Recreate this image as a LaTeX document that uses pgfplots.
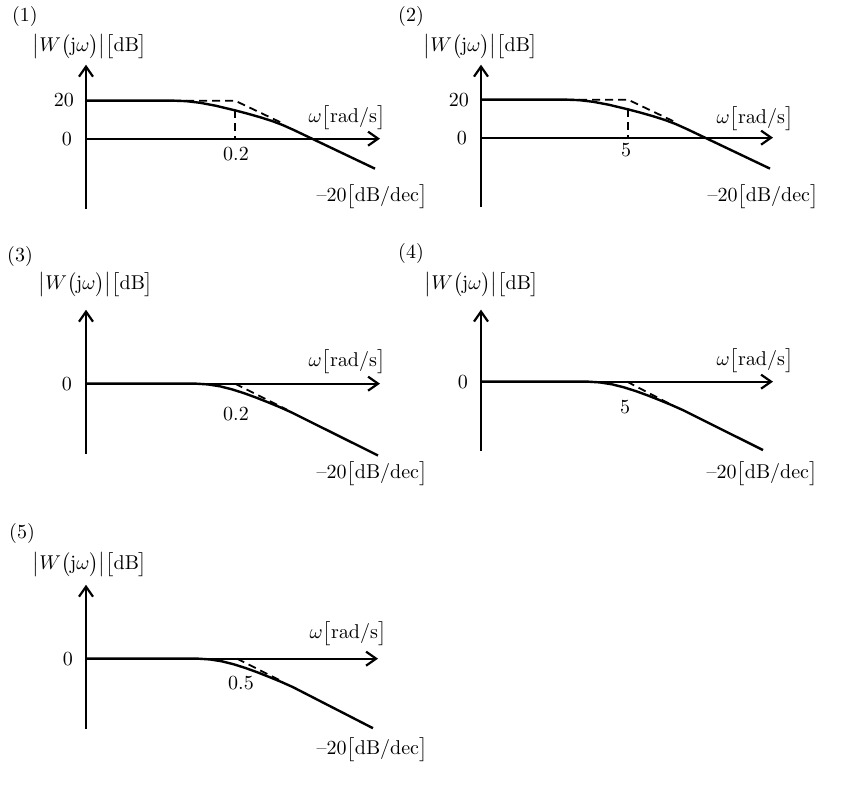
\documentclass[border=0pt]{standalone}
\usepackage{pgfplots}
\pgfplotsset{compat=1.18}
\usepackage{pgfplotstable}
\usetikzlibrary{arrows.meta}

% curves: x = offset from the vertical axis (px), y = gain in dB
\pgfplotstableread{
x y
0 20
87 20
100 19.75
114 18.9
130 17.3
149 14.9
162 13.1
174 11.3
186 9.3
197 7.1
208 4.5
289 -15.8
}\curveA
\pgfplotstableread{
x y
0 20
85 20
98 19.75
112 18.9
128 17.3
147 14.9
160 13.1
172 11.3
184 9.3
195 7.1
206 4.5
289 -16.3
}\curveB
\pgfplotstableread{
x y
0 0
110 0
122 -0.4
134 -1.4
146 -3.0
158 -5.0
170 -7.3
182 -9.8
194 -12.4
205 -15.0
292 -37.8
}\curveC
\pgfplotstableread{
x y
0 0
107 0
119 -0.4
131 -1.4
143 -3.0
155 -5.0
167 -7.3
179 -9.8
191 -12.4
202 -15.0
282 -36.0
}\curveD
\pgfplotstableread{
x y
0 0
112 0
124 -0.4
136 -1.4
148 -3.0
160 -5.0
172 -7.3
184 -9.8
196 -12.4
207 -15.0
287 -36.6
}\curveE

\pgfplotsset{
  bode/.style={
    axis lines=middle,
    x=0.5pt, y=0.95pt,
    ticks=none,
    clip=false,
    enlargelimits=false,
    anchor=origin,
    axis line style={line width=1.1pt,
      -{Straight Barb[length=5pt,width=7pt,line width=1.1pt]}},
  },
  real/.style={black, line width=1.2pt, no markers},
  asym/.style={black, line width=0.9pt, dash pattern=on 4pt off 2.5pt, no markers},
}

\newcommand{\gainlabel}{$\bigl|W\bigl(\mathrm{j}\omega\bigr)\bigr|\bigl[\mathrm{dB}\bigr]$}
\newcommand{\omegalabel}{$\omega\bigl[\mathrm{rad/s}\bigr]$}
\newcommand{\slopelabel}{\textendash20$\bigl[\mathrm{dB/dec}\bigr]$}

\begin{document}
\begin{tikzpicture}
% (1)
\begin{axis}[bode, at={(43pt,-68.5pt)}, xmin=0, xmax=294, ymin=-36.8, ymax=38.9]
\addplot[real] table {\curveA};
\addplot[asym] coordinates {(87,20) (149,20) (197,8.0)};
\addplot[asym] coordinates {(149,14.9) (149,0)};
\end{axis}
% (2)
\begin{axis}[bode, at={(240.5pt,-68pt)}, xmin=0, xmax=292, ymin=-36.3, ymax=38.4]
\addplot[real] table {\curveB};
\addplot[asym] coordinates {(85,20) (147,20) (195,8.0)};
\addplot[asym] coordinates {(147,14.9) (147,0)};
\end{axis}
% (3)
\begin{axis}[bode, at={(43pt,-191pt)}, xmin=0, xmax=294, ymin=-36.8, ymax=38.9]
\addplot[real] table {\curveC};
\addplot[asym] coordinates {(149,0) (201,-13.7)};
\end{axis}
% (4)
\begin{axis}[bode, at={(240.5pt,-190pt)}, xmin=0, xmax=292, ymin=-36.3, ymax=37.9]
\addplot[real] table {\curveD};
\addplot[asym] coordinates {(146,0) (192,-12.6)};
\end{axis}
% (5)
\begin{axis}[bode, at={(43pt,-328.5pt)}, xmin=0, xmax=292, ymin=-36.8, ymax=38.9]
\addplot[real] table {\curveE};
\addplot[asym] coordinates {(151,0) (197,-12.2)};
\end{axis}

\begin{scope}[x=0.5pt, y=-0.5pt]
\path (0,0) rectangle (850,795);
% (1)
\node at (25,15) {(1)};
\node at (90,45) {\gainlabel};
\node[anchor=east] at (81,98) {20};
\node[anchor=east] at (79,137) {0};
\node at (236,152) {0.2};
\node at (347,116) {\omegalabel};
\node at (372,195) {\slopelabel};
% (2)
\node at (411,15) {(2)};
\node at (481,45) {\gainlabel};
\node[anchor=east] at (476,98) {20};
\node[anchor=east] at (474,136) {0};
\node at (626,148) {5};
\node at (755,117) {\omegalabel};
\node at (763,195) {\slopelabel};
% (3)
\node at (20,255) {(3)};
\node at (96,283) {\gainlabel};
\node[anchor=east] at (79,382) {0};
\node at (236,412) {0.2};
\node at (347,360) {\omegalabel};
\node at (372,472) {\slopelabel};
% (4)
\node at (411,252) {(4)};
\node at (482,283) {\gainlabel};
\node[anchor=east] at (475,380) {0};
\node at (625,405) {5};
\node at (755,359) {\omegalabel};
\node at (762,472) {\slopelabel};
% (5)
\node at (22,532) {(5)};
\node at (90,563) {\gainlabel};
\node[anchor=east] at (80,657) {0};
\node at (241,681) {0.5};
\node at (348,632) {\omegalabel};
\node at (372,748) {\slopelabel};
\end{scope}
\end{tikzpicture}
\end{document}
